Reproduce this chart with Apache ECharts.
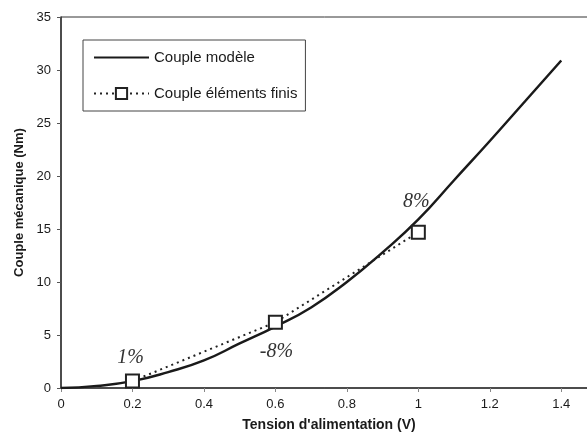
<!DOCTYPE html>
<html>
<head>
<meta charset="utf-8">
<script src="https://cdn.jsdelivr.net/npm/echarts@6/dist/echarts.min.js"></script>
<style>
  html, body { margin: 0; padding: 0; background: #fff; }
  #chart { width: 587px; height: 436px; }
</style>
</head>
<body>
<div id="chart"></div>
<script>
// courbe du modèle (tension V -> couple Nm)
const modelVolts = [0, 0.1, 0.2, 0.3, 0.4, 0.5, 0.6, 0.7, 0.8, 0.9, 1.0, 1.1, 1.2, 1.3, 1.4]
const modelTorque = [0, 0.2, 0.65, 1.5, 2.6, 4.2, 5.8, 7.6, 10.0, 12.8, 15.9, 19.6, 23.3, 27.1, 30.9]

// points éléments finis
const femVolts = [0.2, 0.6, 1.0]
const femTorque = [0.65, 6.2, 14.7]
const femErrors = ['1%', '-8%', '8%']

const xTicks = [0, 0.2, 0.4, 0.6, 0.8, 1, 1.2, 1.4]

const labelPos = [
  { position: 'top', offset: [-2, -1] },
  { position: 'bottom', offset: [1, 7] },
  { position: 'top', offset: [-2, -8] },
]

const font = 'Liberation Sans, Arial, sans-serif'

const chart = echarts.init(document.getElementById('chart'))

chart.setOption({
  backgroundColor: '#fff',
  animation: false,
  grid: {
    left: 61, top: 17, right: -10, bottom: 48,
    outerBoundsMode: 'none',
    show: true, borderColor: '#333', borderWidth: 1, backgroundColor: 'transparent',
  },
  legend: {
    orient: 'vertical',
    left: 83, top: 40,
    padding: [10, 8, 10, 10],
    itemWidth: 55, itemHeight: 14, itemGap: 21,
    borderColor: '#444', borderWidth: 1,
    textStyle: { fontFamily: font, fontSize: 15, color: '#1a1a1a' },
    data: [
      { name: 'Couple modèle', itemStyle: { opacity: 0 } },
      { name: 'Couple éléments finis' },
    ],
  },
  xAxis: {
    type: 'value',
    min: 0, max: 1.5, interval: 0.2,
    name: "Tension d'alimentation (V)",
    nameLocation: 'middle', nameGap: 30,
    nameTextStyle: { fontFamily: font, fontSize: 14, fontWeight: 'bold', color: '#1a1a1a' },
    axisLine: { lineStyle: { color: '#333', width: 1.5 } },
    axisTick: { show: true, length: 4, lineStyle: { color: '#888' } },
    splitLine: { show: false },
    axisLabel: {
      fontFamily: font, fontSize: 13, color: '#1a1a1a', margin: 10,
      showMaxLabel: false,
      formatter: (v) => (xTicks.some((t) => Math.abs(t - v) < 1e-6) ? String(+v.toFixed(1)) : ''),
    },
  },
  yAxis: {
    type: 'value',
    min: 0, max: 35, interval: 5,
    name: 'Couple mécanique (Nm)',
    nameLocation: 'middle', nameGap: 32,
    nameTextStyle: { fontFamily: font, fontSize: 13, fontWeight: 'bold', color: '#1a1a1a' },
    axisLine: { show: true, lineStyle: { color: '#333', width: 1.5 } },
    axisTick: { show: true, length: 4, lineStyle: { color: '#555' } },
    splitLine: { show: false },
    axisLabel: { fontFamily: font, fontSize: 13, color: '#1a1a1a', margin: 10 },
  },
  series: [
    {
      name: 'Couple modèle',
      type: 'line',
      data: modelVolts.map((v, i) => [v, modelTorque[i]]),
      smooth: true,
      symbol: 'none',
      lineStyle: { color: '#1a1a1a', width: 2.5 },
      itemStyle: { color: '#1a1a1a' },
      z: 2,
    },
    {
      name: 'Couple éléments finis',
      type: 'line',
      data: femVolts.map((v, i) => ({
        value: [v, femTorque[i]],
        label: {
          show: true,
          formatter: femErrors[i],
          ...labelPos[i],
        },
      })),
      symbol: 'rect',
      symbolSize: 13,
      lineStyle: { color: '#222', width: 2, type: [2, 4] },
      itemStyle: { color: '#fff', borderColor: '#222', borderWidth: 2 },
      label: {
        fontFamily: 'Liberation Serif, Times New Roman, serif', fontStyle: 'italic',
        fontSize: 20, color: '#333',
      },
      z: 3,
    },
  ],
})
</script>
</body>
</html>
